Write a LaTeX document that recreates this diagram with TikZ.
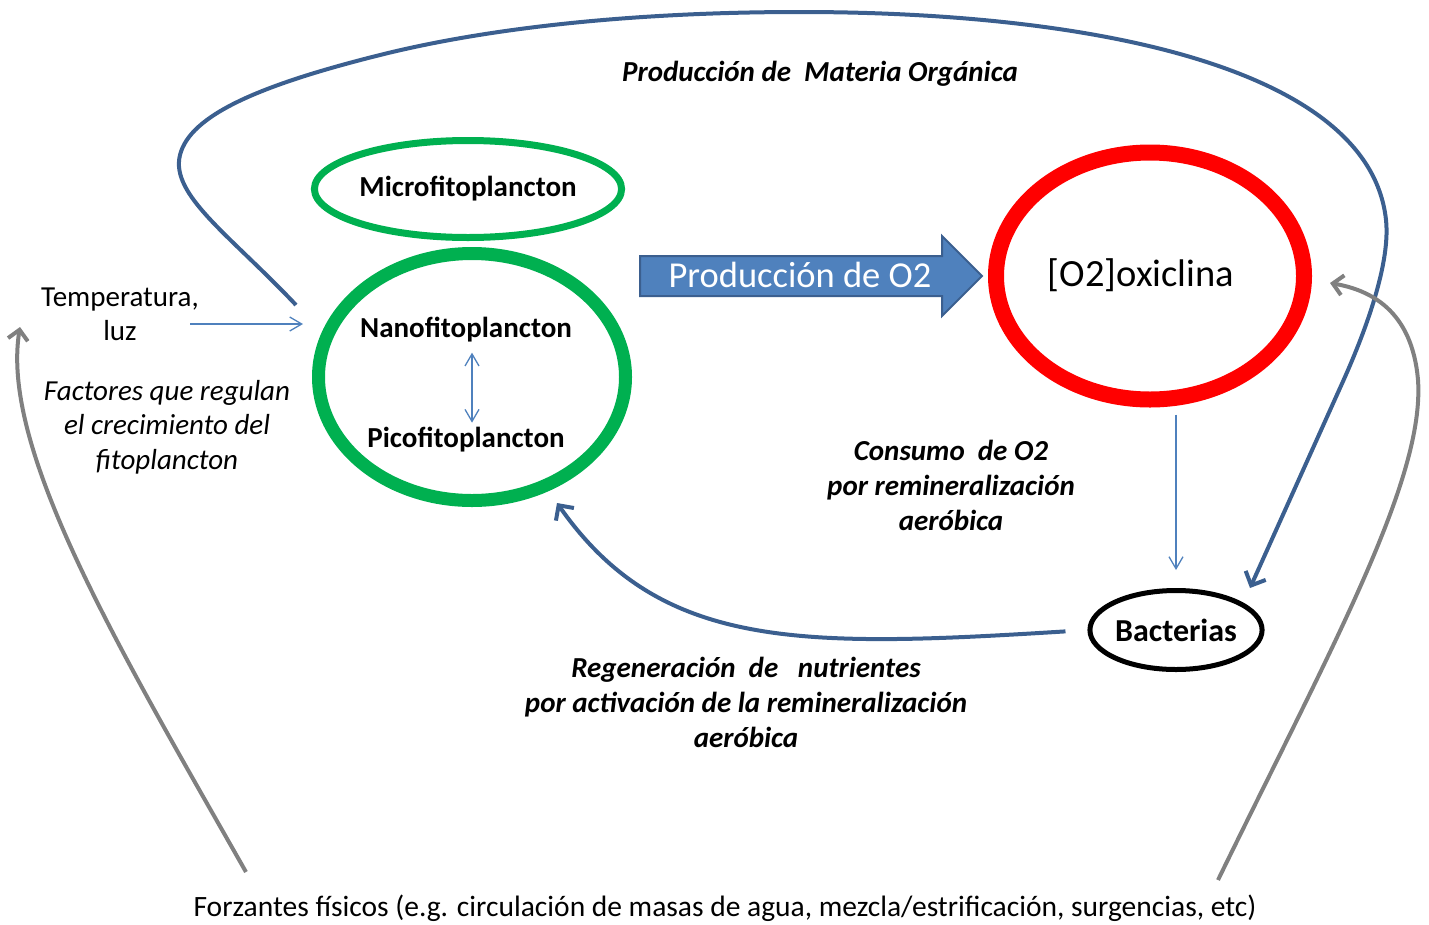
\documentclass[tikz,border=0pt]{standalone}
\usepackage{fontspec}
\setmainfont{Carlito}
\usetikzlibrary{arrows.meta,shapes.geometric,positioning}

\definecolor{verde}{HTML}{00B050}
\definecolor{rojo}{HTML}{FF0000}
\definecolor{azul}{HTML}{4F81BD}
\definecolor{azulosc}{HTML}{3B5F8F}
\definecolor{gris}{HTML}{808080}

\begin{document}
\begin{tikzpicture}[x=1pt,y=-1pt,
    txt/.style={font=\fontsize{29}{34}\selectfont,align=center,inner sep=0pt},
    bold txt/.style={font=\fontsize{29}{34}\selectfont\bfseries,align=center,inner sep=0pt},
    note/.style={font=\fontsize{29}{35}\selectfont\bfseries\itshape,align=center,inner sep=0pt},
    plankton/.style={ellipse,draw=verde,inner sep=0pt},
    thin arrow/.style={draw=azul,line width=1.3pt,-{Straight Barb[length=12pt,width=14pt]}},
    flow/.style={draw=azulosc,line width=4pt,-{Straight Barb[length=11pt,width=22pt]}},
    forcing/.style={draw=gris,line width=4pt,-{Straight Barb[length=10pt,width=20pt]}}]

  \useasboundingbox (0,0) rectangle (1429,924);

  % phytoplankton
  \node[plankton,line width=7pt,minimum width=305pt,minimum height=97pt,bold txt]
        (micro) at (468,189) {Microfitoplancton};
  \node[plankton,line width=13pt,minimum width=307pt,minimum height=247pt] (fito) at (472,377) {};
  \node[bold txt] (nano) at (466,330) {Nanofitoplancton};
  \node[bold txt] (pico) [below=84pt of nano] {Picofitoplancton};

  % oxygen and bacteria
  \node[ellipse,draw=rojo,line width=16pt,minimum width=308pt,minimum height=247pt] (oxi) at (1150,276) {};
  \node[font=\fontsize{38.5}{44}\selectfont,inner sep=0pt] (oxitxt) at (1141,275) {[O2]oxiclina};
  \node[ellipse,draw=black,line width=5pt,minimum width=172pt,minimum height=79pt,
        bold txt,font=\fontsize{32}{36}\selectfont\bfseries] (bact) at (1176,630) {Bacterias};

  % block arrow
  \draw[fill=azul,draw=azulosc,line width=2pt]
        (640,256) -- (942,256) -- (942,236) -- (982,276) -- (942,316) -- (942,296) -- (640,296) -- cycle;
  \node[font=\fontsize{36.5}{40}\selectfont,text=white,inner sep=0pt] (prodo2) at (800,275) {Producción de O2};

  % labels
  \node[note] (pmo) at (820,74) {Producción de\ \ Materia Orgánica};
  \node[txt] (temp) at (120,314) {Temperatura,\\luz};
  \node[txt,font=\fontsize{29}{34.5}\selectfont\itshape] (factores) at (167,427)
        {Factores que regulan\\el crecimiento del\\fitoplancton};
  \node[note] (consumo) at (951,485) {Consumo\ \ de O2\\por remineralización\\aeróbica};
  \node[note] (regen) at (746,702) {Regeneración\ \ de\ \ \ nutrientes\\por activación de la remineralización\\aeróbica};
  \node[txt,font=\fontsize{29.5}{34}\selectfont] (forz) at (725,908)
        {Forzantes físicos\ (e.g. circulación de masas de agua, mezcla/estrificación, surgencias, etc)};

  \coordinate (tempout) at (190,324);
  \coordinate (pmoini) at (296,305);
  \coordinate (pmofin) at (1250,588);
  \coordinate (regenfin) at (557,503);
  \coordinate (forzizq) at (246,872);
  \coordinate (forzder) at (1218,880);
  \coordinate (tempin) at (20,327);
  \coordinate (oxiin) at (1330,283);

  % thin connectors
  \draw[thin arrow,shorten >=9pt] (tempout) -- (tempout -| fito.west);
  \draw[thin arrow,{Straight Barb[length=12pt,width=14pt]}-{Straight Barb[length=12pt,width=14pt]},
        shorten <=10pt,shorten >=4pt] ([xshift=6pt]nano.south) -- ([xshift=6pt]pico.north);
  \draw[thin arrow,shorten <=7pt,shorten >=18pt] (oxi.south -| bact.north) -- (bact.north);

  % flows
  \draw[flow] (pmoini) .. controls (230,235) and (170,195) .. (180,155)
        .. controls (190,115) and (260,85) .. (380,55)
        .. controls (500,25) and (650,12) .. (800,12)
        .. controls (1100,12) and (1370,70) .. (1386,220)
        .. controls (1391,267) and (1361,342) .. (1340,388) -- (pmofin);
  \draw[flow,shorten <=22pt] (bact.west) .. controls (800,648) and (660,650) .. (regenfin);

  % physical forcing
  \draw[forcing] (forzizq) .. controls (120,650) and (0,450) .. (tempin);
  \draw[forcing] (forzder) .. controls (1330,650) and (1425,480) .. (1418,380)
        .. controls (1412,310) and (1370,290) .. (oxiin);
\end{tikzpicture}
\end{document}
